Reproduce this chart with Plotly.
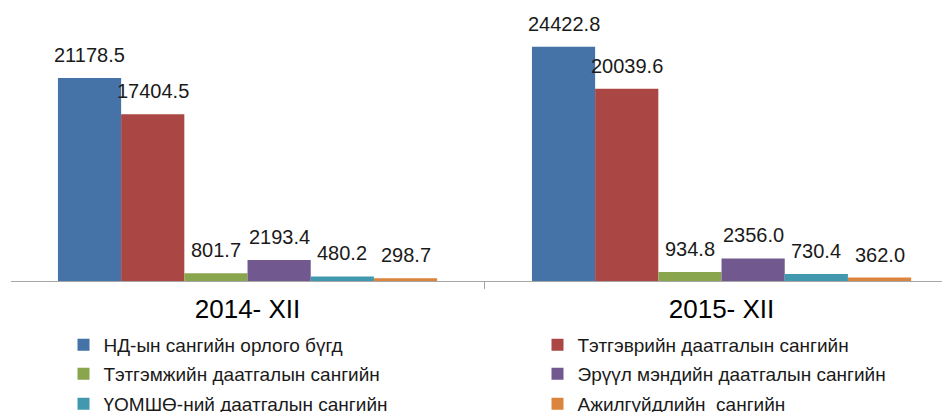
import plotly.graph_objects as go

categories = ["2014- XII", "2015- XII"]
series_names = [
    "НД-ын сангийн орлого бүгд",
    "Тэтгэврийн даатгалын сангийн",
    "Тэтгэмжийн даатгалын сангийн",
    "Эрүүл мэндийн даатгалын сангийн",
    "ҮОМШӨ-ний даатгалын сангийн",
    "Ажилгүйдлийн  сангийн",
]
values_total = [21178.5, 24422.8]
values_pension = [17404.5, 20039.6]
values_benefit = [801.7, 934.8]
values_health = [2193.4, 2356.0]
values_injury = [480.2, 730.4]
values_unemployment = [298.7, 362.0]

series_values = [values_total, values_pension, values_benefit,
                 values_health, values_injury, values_unemployment]
colors = ["#4572A7", "#AA4643", "#89A54E", "#71588F", "#4198AF", "#DB843D"]

FONT = "Arial, Liberation Sans, sans-serif"
BARGAP = 0.2
W, H = 942, 404   # page body has an 8px margin

legend_ids = ["legend", "legend2", "legend3", "legend4", "legend5", "legend6"]

fig = go.Figure()
for name, vals, col, lg in zip(series_names, series_values, colors, legend_ids):
    fig.add_trace(go.Bar(
        x=categories, y=vals, name=name, legend=lg,
        marker=dict(color=col, line=dict(width=0)),
    ))

# data labels above bars
n = len(series_values)
slot = (1 - BARGAP) / n
annotations = []
for j, vals in enumerate(series_values):
    for ci, v in enumerate(vals):
        annotations.append(dict(
            x=ci - (1 - BARGAP) / 2 + (j + 0.5) * slot, y=v,
            xref="x", yref="y", text=f"{v:.1f}", showarrow=False,
            yanchor="bottom", yshift=10,
            font=dict(family=FONT, size=20, color="#1a1a1a"),
        ))

legend_common = dict(
    orientation="h", xref="container", yref="container",
    xanchor="left", yanchor="middle",
    font=dict(family=FONT, size=19, color="#1a1a1a"),
    bgcolor="rgba(0,0,0,0)", itemclick=False, itemdoubleclick=False,
)
col_x = [55.5, 529.5]
row_y = [337, 366, 396]
legends = {}
for k, lg in enumerate(legend_ids):
    legends[lg] = dict(legend_common,
                       x=col_x[k % 2] / W, y=1 - row_y[k // 2] / H)

fig.update_layout(
    width=W, height=H,
    margin=dict(l=3, r=0, t=2, b=131),
    paper_bgcolor="white", plot_bgcolor="white",
    barmode="group", bargap=BARGAP, bargroupgap=0,
    showlegend=True,
    annotations=annotations,
    xaxis=dict(
        type="category", range=[-0.499, 1.482],
        showline=True, linecolor="#A6A6A6", linewidth=1,
        ticks="outside", tickson="boundaries", ticklen=7,
        tickcolor="#A6A6A6", tickwidth=1, ticklabelstandoff=5,
        tickfont=dict(family=FONT, size=26, color="#000000"),
        showgrid=False, zeroline=False,
    ),
    yaxis=dict(
        range=[0, 28265], visible=False, showgrid=False, zeroline=False,
    ),
    **legends,
)

fig.write_html("out.html")
